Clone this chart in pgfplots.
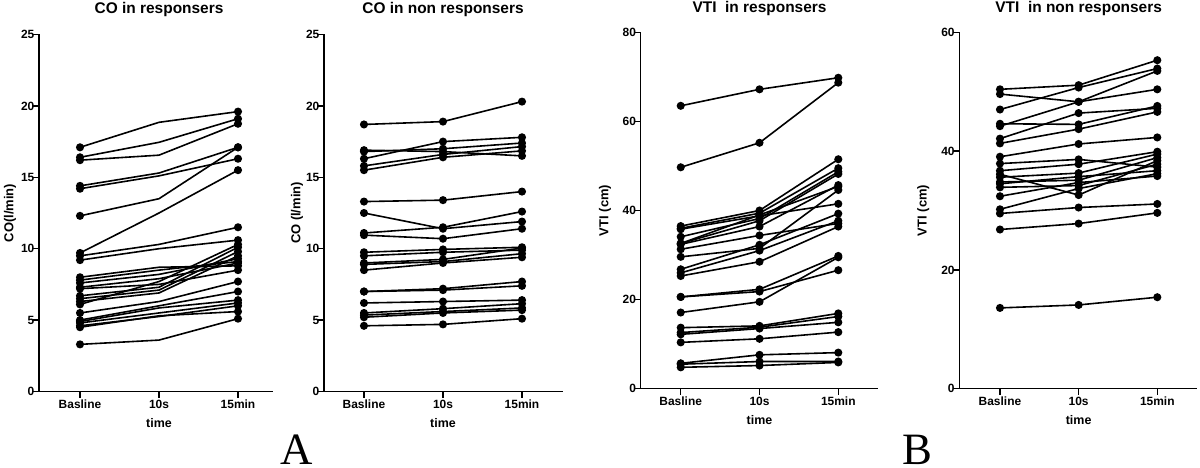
\documentclass[border=0pt]{standalone}
\usepackage{fontspec}
\setmainfont{Liberation Sans}
\newfontfamily\serifA{Liberation Serif}
\usepackage{pgfplots}
\pgfplotsset{compat=1.18}
\pgfplotsset{
  gp/.style={
    scale only axis,
    axis lines*=left,
    axis line style={line width=1.4bp,black},
    tick align=outside,
    major tick length=6bp,
    tick style={line width=1.4bp,black},
    xtick={0,1,2},
    xticklabels={Basline,10s,15min},
    ymin=0,
    clip=false,
    /pgf/number format/assume math mode=true,
    tick label style={font=\bfseries\fontsize{12}{14}\selectfont},
    xticklabel style={anchor=base,yshift=-11bp},
    yticklabel style={anchor=east,inner sep=0pt,xshift=1.5bp},
    title style={anchor=base,font=\bfseries\fontsize{15.5}{18}\selectfont},
    ylabel style={anchor=center,font=\bfseries\fontsize{13}{15}\selectfont},
    xlabel style={anchor=base,font=\bfseries\fontsize{12.5}{15}\selectfont},
    cycle list={black,solid,mark=*,mark options={solid,fill=black}\\},
    every axis plot post/.append style={line width=1.6bp,mark size=3.2bp},
  }
}
\begin{document}
\begin{tikzpicture}
\useasboundingbox (0,0) rectangle (1200bp,468bp);

% Panel 1: CO in responsers
\begin{axis}[gp, at={(39bp,76.5bp)}, anchor=south west,
  width=234bp, height=357bp, xmin=-0.519, xmax=2.443, ymax=25, ytick distance=5,
  title={CO in responsers}, title style={at={(0.513,1)},yshift=15.5bp},
  ylabel={CO(l/min)}, ylabel style={at={([xshift=-29bp]axis description cs:0,0.5)}},
  xlabel={time}, xlabel style={at={([yshift=-35.5bp]axis description cs:0.513,0)}},
  every axis plot post/.append style={mark indices={1,3}}]
\addplot coordinates {(0,17.1) (1,18.85) (2,19.6)};
\addplot coordinates {(0,16.4) (1,17.45) (2,19.1)};
\addplot coordinates {(0,16.2) (1,16.55) (2,18.75)};
\addplot coordinates {(0,14.4) (1,15.3) (2,17.1)};
\addplot coordinates {(0,14.2) (1,15.1) (2,16.3)};
\addplot coordinates {(0,12.3) (1,13.5) (2,17.1)};
\addplot coordinates {(0,9.7) (1,12.5) (2,15.5)};
\addplot coordinates {(0,9.5) (1,10.3) (2,11.5)};
\addplot coordinates {(0,9.2) (1,10.0) (2,10.6)};
\addplot coordinates {(0,8.0) (1,8.7) (2,8.8)};
\addplot coordinates {(0,7.8) (1,8.5) (2,9.1)};
\addplot coordinates {(0,7.6) (1,8.2) (2,9.3)};
\addplot coordinates {(0,7.3) (1,7.9) (2,9.0)};
\addplot coordinates {(0,7.2) (1,7.5) (2,8.5)};
\addplot coordinates {(0,6.7) (1,7.3) (2,10.1)};
\addplot coordinates {(0,6.5) (1,7.1) (2,9.8)};
\addplot coordinates {(0,6.3) (1,6.9) (2,9.5)};
\addplot coordinates {(0,6.1) (1,7.7) (2,10.3)};
\addplot coordinates {(0,5.5) (1,6.3) (2,7.7)};
\addplot coordinates {(0,5.0) (1,6.0) (2,7.0)};
\addplot coordinates {(0,4.9) (1,5.85) (2,6.4)};
\addplot coordinates {(0,4.8) (1,5.5) (2,6.2)};
\addplot coordinates {(0,4.6) (1,5.25) (2,6.0)};
\addplot coordinates {(0,4.5) (1,5.3) (2,5.6)};
\addplot coordinates {(0,3.3) (1,3.6) (2,5.1)};
\end{axis}

% Panel 2: CO in non responsers
\begin{axis}[gp, at={(324bp,76.5bp)}, anchor=south west,
  width=239bp, height=357bp, xmin=-0.506, xmax=2.519, ymax=25, ytick distance=5,
  title={CO in non responsers}, title style={at={(0.498,1)},yshift=15.5bp},
  ylabel={CO (l/min)}, ylabel style={at={([xshift=-27bp]axis description cs:0,0.5)}},
  xlabel={time}, xlabel style={at={([yshift=-35.5bp]axis description cs:0.498,0)}}]
\addplot coordinates {(0,18.7) (1,18.9) (2,20.3)};
\addplot coordinates {(0,16.3) (1,17.5) (2,17.8)};
\addplot coordinates {(0,16.9) (1,16.8) (2,16.5)};
\addplot coordinates {(0,16.8) (1,17.0) (2,17.4)};
\addplot coordinates {(0,15.8) (1,16.6) (2,17.15)};
\addplot coordinates {(0,15.5) (1,16.4) (2,16.85)};
\addplot coordinates {(0,13.3) (1,13.4) (2,14.0)};
\addplot coordinates {(0,12.5) (1,11.4) (2,11.9)};
\addplot coordinates {(0,11.1) (1,11.5) (2,12.6)};
\addplot coordinates {(0,10.95) (1,10.7) (2,11.4)};
\addplot coordinates {(0,9.75) (1,9.95) (2,10.1)};
\addplot coordinates {(0,9.5) (1,9.75) (2,9.9)};
\addplot coordinates {(0,9.0) (1,9.25) (2,10.05)};
\addplot coordinates {(0,8.9) (1,9.1) (2,9.65)};
\addplot coordinates {(0,8.5) (1,9.0) (2,9.4)};
\addplot coordinates {(0,7.0) (1,7.2) (2,7.7)};
\addplot coordinates {(0,7.0) (1,7.1) (2,7.4)};
\addplot coordinates {(0,6.2) (1,6.3) (2,6.4)};
\addplot coordinates {(0,5.5) (1,5.8) (2,6.15)};
\addplot coordinates {(0,5.35) (1,5.6) (2,5.85)};
\addplot coordinates {(0,5.2) (1,5.5) (2,5.7)};
\addplot coordinates {(0,4.6) (1,4.7) (2,5.1)};
\end{axis}

% Panel 3: VTI in responsers
\begin{axis}[gp, at={(640.7bp,79.3bp)}, anchor=south west,
  width=237.3bp, height=356.4bp, xmin=-0.508, xmax=2.504, ymax=80, ytick distance=20,
  title={VTI\ \ in responsers}, title style={at={(0.5007,1)},yshift=13.5bp},
  ylabel={VTI (cm)}, ylabel style={at={([xshift=-35.7bp]axis description cs:0,0.5)}},
  xlabel={time}, xlabel style={at={([yshift=-35.5bp]axis description cs:0.5007,0)}}]
\addplot coordinates {(0,63.5) (1,67.2) (2,69.8)};
\addplot coordinates {(0,49.7) (1,55.2) (2,68.7)};
\addplot coordinates {(0,36.5) (1,40.0) (2,51.5)};
\addplot coordinates {(0,36.0) (1,39.4) (2,49.5)};
\addplot coordinates {(0,35.8) (1,38.8) (2,41.5)};
\addplot coordinates {(0,34.1) (1,38.2) (2,48.7)};
\addplot coordinates {(0,32.6) (1,37.7) (2,48.2)};
\addplot coordinates {(0,32.4) (1,36.4) (2,45.7)};
\addplot coordinates {(0,32.6) (1,39.0) (2,45.4)};
\addplot coordinates {(0,31.3) (1,34.4) (2,37.1)};
\addplot coordinates {(0,29.6) (1,31.5) (2,44.6)};
\addplot coordinates {(0,26.8) (1,32.3) (2,39.3)};
\addplot coordinates {(0,26.0) (1,31.0) (2,37.7)};
\addplot coordinates {(0,25.3) (1,28.5) (2,36.4)};
\addplot coordinates {(0,20.6) (1,22.3) (2,29.8)};
\addplot coordinates {(0,20.6) (1,21.8) (2,26.6)};
\addplot coordinates {(0,17.1) (1,19.5) (2,29.5)};
\addplot coordinates {(0,13.7) (1,14.1) (2,16.9)};
\addplot coordinates {(0,12.6) (1,13.8) (2,16.2)};
\addplot coordinates {(0,12.2) (1,13.5) (2,14.9)};
\addplot coordinates {(0,10.4) (1,11.2) (2,12.7)};
\addplot coordinates {(0,5.7) (1,7.6) (2,8.1)};
\addplot coordinates {(0,5.5) (1,6.1) (2,6.1)};
\addplot coordinates {(0,4.8) (1,5.2) (2,5.9)};
\end{axis}

% Panel 4: VTI in non responsers
\begin{axis}[gp, at={(959.3bp,79.3bp)}, anchor=south west,
  width=237.4bp, height=356.4bp, xmin=-0.517, xmax=2.501, ymax=60, ytick distance=20,
  title={VTI\ \ in non responsers}, title style={at={(0.5027,1)},yshift=13.5bp},
  ylabel={VTI (cm)}, ylabel style={at={([xshift=-36bp]axis description cs:0,0.5)}},
  xlabel={time}, xlabel style={at={([yshift=-35.5bp]axis description cs:0.5027,0)}}]
\addplot coordinates {(0,50.4) (1,51.1) (2,55.3)};
\addplot coordinates {(0,47.0) (1,50.7) (2,53.9)};
\addplot coordinates {(0,44.2) (1,48.3) (2,53.5)};
\addplot coordinates {(0,49.6) (1,48.3) (2,50.4)};
\addplot coordinates {(0,44.6) (1,44.5) (2,47.6)};
\addplot coordinates {(0,42.1) (1,46.4) (2,47.2)};
\addplot coordinates {(0,41.3) (1,43.7) (2,46.6)};
\addplot coordinates {(0,39.05) (1,41.2) (2,42.3)};
\addplot coordinates {(0,37.9) (1,38.6) (2,37.3)};
\addplot coordinates {(0,36.7) (1,37.8) (2,39.9)};
\addplot coordinates {(0,36.1) (1,32.6) (2,38.4)};
\addplot coordinates {(0,35.6) (1,36.3) (2,39.5)};
\addplot coordinates {(0,34.8) (1,35.1) (2,38.9)};
\addplot coordinates {(0,34.5) (1,35.7) (2,36.7)};
\addplot coordinates {(0,33.9) (1,34.2) (2,37.8)};
\addplot coordinates {(0,32.4) (1,34.7) (2,35.8)};
\addplot coordinates {(0,30.2) (1,33.7) (2,36.2)};
\addplot coordinates {(0,29.5) (1,30.5) (2,31.1)};
\addplot coordinates {(0,26.8) (1,27.8) (2,29.6)};
\addplot coordinates {(0,13.6) (1,14.1) (2,15.4)};
\end{axis}

\node[anchor=base,font=\serifA\fontsize{45}{50}\selectfont,inner sep=0pt] at (297bp,3.5bp) {A};
\node[anchor=base,font=\serifA\fontsize{45}{50}\selectfont,inner sep=0pt] at (917.5bp,3.5bp) {B};
\end{tikzpicture}
\end{document}
